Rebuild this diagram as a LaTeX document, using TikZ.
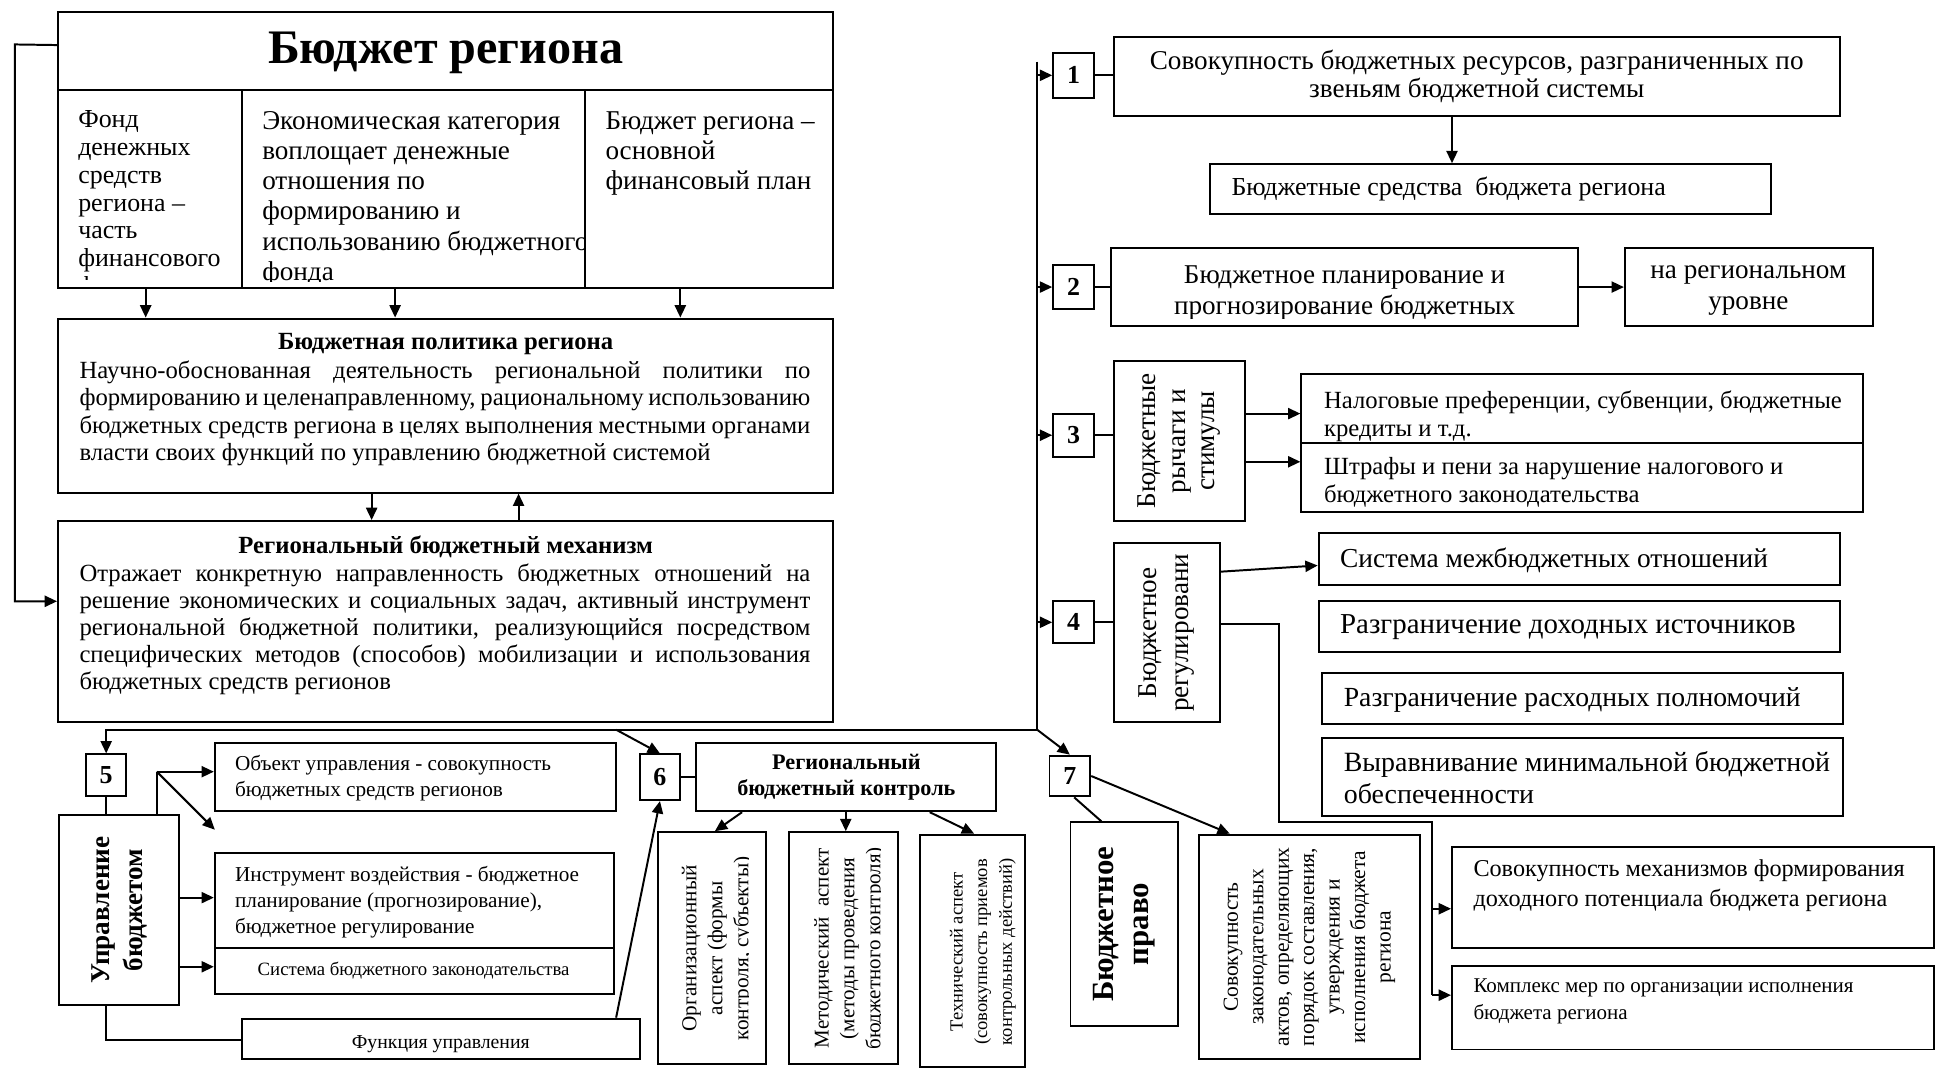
\documentclass[tikz,border=0pt]{standalone}
\usepackage{fontspec}
\setmainfont{Liberation Serif}
\usetikzlibrary{arrows.meta,fit,calc}
\tikzset{
  bx/.style={draw, line width=0.8pt, inner sep=0pt, fit={#1}},
  ln/.style={line width=0.8pt},
  arr/.style={line width=0.8pt, -{Triangle[length=5pt,width=4.5pt]}},
  tx/.style={inner sep=0pt, align=left, anchor=north west},
  ct/.style={inner sep=0pt, align=center},
  rot/.style={inner sep=0pt, align=center, rotate=90},
  num/.style={inner sep=0pt, font=\bfseries\fontsize{10.5}{12}\selectfont},
}
\newcommand{\fs}[2]{\fontsize{#1}{#2}\selectfont}
\newcommand{\jl}[1]{\makebox[296pt][s]{#1}}
\begin{document}
\begin{tikzpicture}[x=0.5pt,y=-0.5pt]
\useasboundingbox (0,0) rectangle (1568,866);
\fill[white] (0,0) rectangle (1568,866);

% ---------- main block ----------
\node[bx={(47,10) (675,73)}] (title) {};
\node[bx={(47,73) (196,233)}] (c1) {};
\node[bx={(196,73) (474,233)}] (c2) {};
\node[bx={(474,73) (675,233)}] (c3) {};
\node[inner sep=0pt, font=\bfseries\fs{19.5}{22}] (ttl) at (361,43) {Бюджет региона};
\begin{scope}
\clip (47,73) rectangle (196,226);
\node[tx, font=\fs{10.5}{11.3}] (t1) at (63,89) {Фонд\\денежных\\средств\\региона –\\часть\\финансового\\фонда};
\end{scope}
\begin{scope}
\clip (196,73) rectangle (474,228);
\node[tx, font=\fs{11}{12.2}] (t2) at (212,90) {Экономическая категория\\воплощает денежные\\отношения по\\формированию и\\использованию бюджетного\\фонда};
\end{scope}
\node[tx, font=\fs{11}{12.2}] (t3) at (490,90) {Бюджет региона –\\основной\\финансовый план};

\node[bx={(47,258) (675,399)}] (pol) {};
\node[inner sep=0pt, font=\bfseries\fs{10}{12}] (polt) at (361,279) {Бюджетная политика региона};
\node[tx, font=\fs{10}{11}] (polb) at (64,292) {\jl{Научно-обоснованная деятельность региональной политики по}\\
\jl{формированию и целенаправленному, рациональному использованию}\\
\jl{бюджетных средств региона в целях выполнения местными органами}\\
власти своих функций по управлению бюджетной системой};

\node[bx={(47,422) (675,585)}] (mech) {};
\node[inner sep=0pt, font=\bfseries\fs{10}{12}] (mecht) at (361,443) {Региональный бюджетный механизм};
\node[tx, font=\fs{10}{11}] (mechb) at (64,456) {\jl{Отражает конкретную направленность бюджетных отношений на}\\
\jl{решение экономических и социальных задач, активный инструмент}\\
\jl{региональной бюджетной политики, реализующийся посредством}\\
\jl{специфических методов (способов) мобилизации и использования}\\
бюджетных средств регионов};

\draw[arr] ([yshift=2.5pt]title.west) -- (12,36) |- (mech.west |- 0,487);
\foreach \x/\n in {118/c1,320/c2,551/c3} \draw[arr] (\n.south -| \x,0) -- (pol.north -| \x,0);
\draw[arr] (pol.south -| 301,0) -- (mech.north -| 301,0);
\draw[arr] (mech.north -| 420,0) -- (pol.south -| 420,0);

% ---------- right column ----------
\node[bx={(853,43) (886,79)}] (b1) {};
\node[num] (n1) at (b1) {1};
\node[bx={(902,30) (1490,94)}] (big1) {};
\node[ct, font=\fs{11}{11.5}] (big1t) at (big1.center) {Совокупность бюджетных ресурсов, разграниченных по\\звеньям бюджетной системы};
\node[bx={(980,133) (1434,173)}] (bs) {};
\node[inner sep=0pt, anchor=west, font=\fs{10.5}{12}] (bst) at (997,153) {Бюджетные средства\ \ бюджета региона};

\node[bx={(853,215) (886,250)}] (b2) {};
\node[num] (n2) at (b2) {2};
\node[bx={(900,201) (1278,264)}] (plan) {};
\node[bx={(1316,201) (1517,264)}] (nareg) {};
\begin{scope}
\clip (900,201) rectangle (1278,258);
\node[ct, anchor=north, font=\fs{11}{12.5}] (plant) at (1089,215) {Бюджетное планирование и\\прогнозирование бюджетных};
\end{scope}
\begin{scope}
\clip (1316,201) rectangle (1517,258);
\node[ct, anchor=north, font=\fs{11}{12.5}] (naregt) at (1416,215) {на региональном\\уровне};
\end{scope}

\node[bx={(853,335) (886,370)}] (b3) {};
\node[num] (n3) at (b3) {3};
\node[bx={(902,292) (1008,422)}] (rych) {};
\node[rot, font=\fs{11}{12}] (rycht) at (rych.center) {Бюджетные\\рычаги и\\стимулы};
\node[bx={(1054,303) (1509,359)}] (nal) {};
\node[bx={(1054,359) (1509,415)}] (shtr) {};
\begin{scope}
\clip (nal.south west) rectangle (nal.north east);
\node[tx, font=\fs{10}{11.5}] (nalt) at (1072,316) {Налоговые преференции, субвенции, бюджетные\\кредиты и т.д.};
\end{scope}
\node[tx, font=\fs{10}{11.5}] (shtrt) at (1072,370) {Штрафы и пени за нарушение налогового и\\бюджетного законодательства};

\node[bx={(853,487) (886,521)}] (b4) {};
\node[num] (n4) at (b4) {4};
\node[bx={(902,440) (988,585)}] (reg) {};
\node[rot, font=\fs{11}{13}] (regt) at (reg.center) {Бюджетное\\регулировани};
\node[bx={(1068,432) (1490,474)}] (sist) {};
\node[inner sep=0pt, anchor=west, font=\fs{11.1}{13}] (sistt) at (1085,454) {Система межбюджетных отношений};
\node[bx={(1068,487) (1490,528)}] (rd) {};
\node[inner sep=0pt, anchor=west, font=\fs{11.7}{13}] (rdt) at (1085,508) {Разграничение доходных источников};
\node[bx={(1071,545) (1493,586)}] (rr) {};
\node[inner sep=0pt, anchor=west, font=\fs{11.2}{13}] (rrt) at (1088,567) {Разграничение расходных полномочий};
\node[bx={(1071,598) (1493,661)}] (vyr) {};
\node[tx, font=\fs{11.3}{13}] (vyrt) at (1088,608) {Выравнивание минимальной бюджетной\\обеспеченности};
\node[bx={(1176,686) (1566,768)}] (mf) {};
\node[tx, font=\fs{9.8}{12}] (mft) at (1193,696) {Совокупность механизмов формирования\\доходного потенциала бюджета региона};
\node[bx={(1176,782) (1566,850)}] (km) {};
\node[tx, font=\fs{8.5}{11}] (kmt) at (1193,792) {Комплекс мер по организации исполнения\\бюджета региона};

% spine
\coordinate (sp) at (840,591);
\coordinate (spt) at (840,50);
\draw[ln] (spt) -- (sp);
\foreach \n in {b1,b2,b3,b4} \draw[arr] (spt |- \n.west) -- (\n.west);
\draw[ln] (b1.east) -- (big1.west |- b1.east);
\draw[arr] (big1.south -| 1176,0) -- (bs.north -| 1176,0);
\draw[ln] (b2.east) -- (plan.west |- b2.east);
\draw[arr] (plan.east) -- (nareg.west);
\draw[ln] (b3.east) -- (rych.west |- b3.east);
\draw[arr] (rych.east |- 0,335) -- (nal.west |- 0,335);
\draw[arr] (rych.east |- 0,374) -- (shtr.west |- 0,374);
\draw[ln] (b4.east) -- (reg.west |- b4.east);
\draw[arr] (reg.east |- 0,463) -- (sist.west |- 0,458);
\coordinate (r1) at (1036,505);
\coordinate (r2) at (1036,666);
\coordinate (r3) at (1160,666);
\coordinate (r4) at (1160,806);
\draw[ln] (reg.east |- r1) -- (r1) -- (r2) -- (r3) -- (r4);
\draw[arr] (r3 |- 0,736) -- (mf.west |- 0,736);
\draw[arr] (r4) -- (km.west |- r4);

% ---------- bottom ----------
\node[bx={(70,611) (102,645)}] (b5) {};
\node[num] (n5) at (b5) {5};
\node[bx={(48,660) (145,814)}] (uprav) {};
\node[rot, font=\bfseries\fs{11}{13.5}] (upravt) at (uprav.center) {Управление\\бюджетом};
\node[bx={(174,602) (499,657)}] (obj) {};
\node[tx, font=\fs{8.6}{10.5}] (objt) at (190,611) {Объект управления - совокупность\\бюджетных средств регионов};
\node[bx={(174,691) (497,768)}] (instr) {};
\node[tx, font=\fs{8.6}{10.5}] (instrt) at (190,701) {Инструмент воздействия - бюджетное\\планирование (прогнозирование),\\бюджетное регулирование};
\node[bx={(174,768) (497,805)}] (sys) {};
\node[inner sep=0pt, font=\fs{7.6}{9}] (syst) at (335,786) {Система бюджетного законодательства};
\node[bx={(196,825) (518,858)}] (funk) {};
\begin{scope}
\clip (funk.south west) rectangle (funk.north east);
\node[inner sep=0pt, font=\fs{8}{9}] (funkt) at (357,846) {Функция управления};
\end{scope}

\node[bx={(518,611) (551,648)}] (b6) {};
\node[num] (n6) at (b6) {6};
\node[bx={(564,602) (807,657)}] (kon) {};
\node[ct, font=\bfseries\fs{9}{10.5}] (kont) at (kon.center) {Региональный\\бюджетный контроль};
\node[bx={(533,674) (620,862)}] (org) {};
\node[bx={(639,674) (727,862)}] (meth) {};
\node[bx={(745,676) (830,864)}] (tech) {};
\begin{scope}
\clip (533,674) rectangle (606,862);
\node[rot, font=\fs{8.6}{10.5}] (orgt) at (581,768) {Организационный\\аспект (формы\\контроля, субъекты)};
\end{scope}
\begin{scope}
\clip (639,674) rectangle (713,862);
\node[rot, font=\fs{8.5}{10.5}] (metht) at (688,768) {Методический\ \ аспект\\(методы проведения\\бюджетного контроля)};
\end{scope}
\begin{scope}
\clip (tech.south west) rectangle (tech.north east);
\node[rot, font=\fs{7.5}{10}] (techt) at (796,771) {Технический аспект\\(совокупность приемов\\контрольных действий)};
\end{scope}

\node[bx={(850,612) (883,645)}] (b7) {};
\node[num] (n7) at (b7) {7};
\node[bx={(867,666) (954,831)}] (pravo) {};
\node[rot, font=\bfseries\fs{12.5}{14.5}] (pravot) at (pravo.center) {Бюджетное\\право};
\node[bx={(971,676) (1150,858)}] (zakon) {};
\node[rot, font=\fs{8.7}{10.3}] (zakont) at (zakon.center) {Совокупность\\законодательных\\актов, определяющих\\порядок составления,\\утверждения и\\исполнения бюджета\\региона};

% bottom connectors
\draw[arr] (sp) -- (b5.north |- sp) -- (b5.north);
\coordinate (d6) at (499,591);
\draw[arr] (d6) -- (b6.north);
\draw[arr] (sp) -- (b7.north);
\draw[ln] (b5.south) -- (b5.south |- uprav.north);
\coordinate (u1) at (127,625);
\coordinate (u2) at (174,672);
\draw[ln] (uprav.north -| u1) -- (u1);
\draw[arr] (u1) -- (obj.west |- u1);
\draw[arr] (u1) -- (u2);
\draw[arr] (uprav.east |- 0,727) -- (instr.west |- 0,727);
\draw[arr] (uprav.east |- 0,783) -- (sys.west |- 0,783);
\coordinate (f1) at (86,842);
\draw[ln] (uprav.south -| f1) -- (f1) -- (funk.west |- f1);
\draw[arr] (funk.north -| 499,0) -- (b6.south);
\draw[ln] (b6.east) -- (kon.west |- b6.east);
\draw[arr] (kon.south -| 601,0) -- (org.north -| 579,0);
\draw[arr] (kon.south -| 685,0) -- (meth.north -| 685,0);
\draw[arr] (kon.south -| 753,0) -- (tech.north -| 789,0);
\draw[ln] (b7.south -| 870,0) -- (pravo.north -| 892,0);
\draw[arr] (b7.east) -- (zakon.north -| 996,0);
\end{tikzpicture}
\end{document}
